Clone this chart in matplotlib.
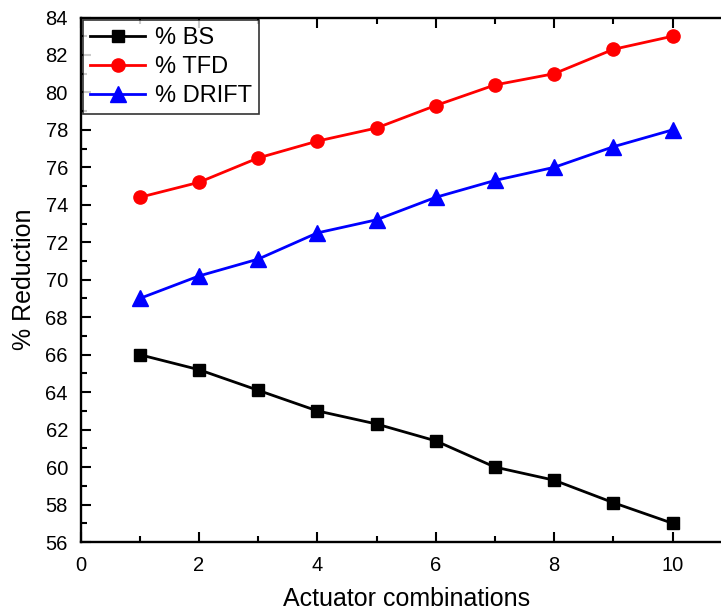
import matplotlib
matplotlib.use("Agg")
import matplotlib.pyplot as plt
from matplotlib.ticker import MultipleLocator

plt.rcParams['font.family'] = ['Liberation Sans', 'DejaVu Sans']

x = [1, 2, 3, 4, 5, 6, 7, 8, 9, 10]
bs = [66.0, 65.2, 64.1, 63.0, 62.3, 61.4, 60.0, 59.3, 58.1, 57.0]
tfd = [74.4, 75.2, 76.5, 77.4, 78.1, 79.3, 80.4, 81.0, 82.3, 83.0]
drift = [69.0, 70.2, 71.1, 72.5, 73.2, 74.4, 75.3, 76.0, 77.1, 78.0]

W, H = 721, 615
fig = plt.figure(figsize=(W / 100, H / 100), dpi=100)
x_max = 11.0
left_px, right_px = 80.5, 80.5 + 59.2 * x_max
top_px, bot_px = 17.5, 542.0
ax = fig.add_axes([left_px / W, (H - bot_px) / H, (right_px - left_px) / W, (bot_px - top_px) / H])

ax.plot(x, bs, color='black', marker='s', markersize=8, linewidth=2, label='% BS')
ax.plot(x, tfd, color='red', marker='o', markersize=9.5, linewidth=2, label='% TFD')
ax.plot(x, drift, color='blue', marker='^', markersize=11, linewidth=2, label='% DRIFT')

ax.set_xlim(0, x_max)
ax.set_ylim(56, 84)
ax.xaxis.set_major_locator(MultipleLocator(2))
ax.xaxis.set_minor_locator(MultipleLocator(1))
ax.yaxis.set_major_locator(MultipleLocator(2))
ax.yaxis.set_minor_locator(MultipleLocator(1))
ax.tick_params(which='both', direction='in', top=True, right=False, width=1.5, labelsize=14.5)
ax.tick_params(which='major', length=7)
ax.tick_params(which='minor', length=4)
ax.tick_params(axis='y', which='major', pad=9)
ax.tick_params(axis='x', which='major', pad=10)
ax.set_xticks([0, 2, 4, 6, 8, 10])
for s in ax.spines.values():
    s.set_linewidth(1.7)

ax.set_xlabel('Actuator combinations', fontsize=18, labelpad=9)
ax.set_ylabel('% Reduction', fontsize=18, labelpad=7)

leg = ax.legend(loc='upper left', fontsize=17, frameon=True, fancybox=False,
                edgecolor='black', borderaxespad=0.1, handlelength=2.35,
                handletextpad=0.4, borderpad=0.3, labelspacing=0.3)
leg.get_frame().set_linewidth(1.2)

fig.savefig('out.png', dpi=100)
